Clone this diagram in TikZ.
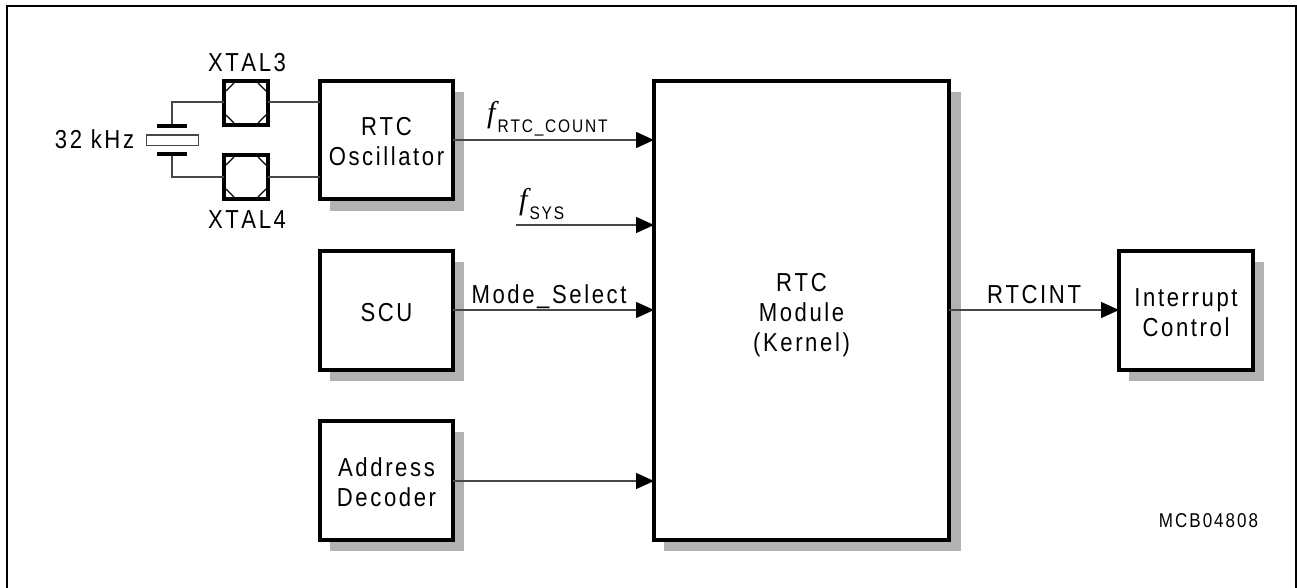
\documentclass[tikz,border=0pt]{standalone}
\usepackage{fontspec}
\setmainfont{Liberation Sans}
\newfontfamily\lblfont[LetterSpace=10,FakeStretch=0.85,Kerning=Off]{Liberation Sans}
\newfontfamily\italfont{Liberation Serif}
\usetikzlibrary{arrows.meta}
\definecolor{shadowgray}{gray}{0.7}
\definecolor{wire}{gray}{0.28}
\tikzset{
  x=1pt,y=-1pt,
  blockbox/.style={draw=black,line width=4pt,fill=white,inner sep=0pt,outer sep=0pt,align=center,anchor=north west,
    font=\fontsize{26}{30}\lblfont},
  padbox/.style={draw=black,line width=4pt,fill=white,inner sep=0pt,outer sep=0pt,minimum size=44pt},
  lbl/.style={inner sep=0pt,anchor=base,font=\fontsize{26}{30}\lblfont},
  tinylbl/.style={inner sep=0pt,anchor=base,font=\fontsize{20}{24}\lblfont},
  wirel/.style={draw=wire,line width=1.2pt},
  sig/.style={wirel,-{Triangle[length=18pt,width=16pt,fill=black,color=black]}},
}
\newcommand{\fsig}[1]{{\fontsize{30}{30}\italfont\itshape f}\kern2pt{\lower10pt\hbox{\fontsize{18.2}{18.2}\lblfont #1}}}
\newcommand{\tp}{\rule{0pt}{27pt}}
\newcommand{\bt}{\rule[-6pt]{0pt}{6pt}}
\begin{document}
\begin{tikzpicture}
\useasboundingbox (0,0) rectangle (1297,588);
\fill[white] (0,0) rectangle (1297,588);
% frame
\draw[black,line width=2pt] (7,600) -- (7,6) -- (1296,6) -- (1296,600);
% shadows
\fill[shadowgray] (330,92) rectangle (464,211);
\fill[shadowgray] (330,262) rectangle (464,381);
\fill[shadowgray] (330,432) rectangle (464,551);
\fill[shadowgray] (664,92) rectangle (961,551);
\fill[shadowgray] (1129,262) rectangle (1264,381);
% blocks
\node[blockbox,minimum width=133pt,minimum height=118pt] (osc) at (320,81) {\tp RTC\\Oscillator\bt};
\node[blockbox,minimum width=133pt,minimum height=119pt] (scu) at (320,251) {\tp SCU\bt};
\node[blockbox,minimum width=133pt,minimum height=119pt] (addr) at (320,421) {\tp Address\\Decoder\bt};
\node[blockbox,minimum width=295pt,minimum height=459pt] (rtc) at (654,81) {\tp RTC\\Module\\(Kernel)\bt};
\node[blockbox,minimum width=134pt,minimum height=119pt] (irq) at (1119,251) {\tp Interrupt\\Control\bt};
% pads
\node[padbox] (x3) at (246,103) {};
\node[padbox] (x4) at (246,177) {};
\foreach \p in {x3,x4}{
  \draw[black,line width=1.4pt] (\p.north west) ++(2,10) -- ++(8,-8);
  \draw[black,line width=1.4pt] (\p.north east) ++(-2,10) -- ++(-8,-8);
  \draw[black,line width=1.4pt] (\p.south west) ++(2,-10) -- ++(8,8);
  \draw[black,line width=1.4pt] (\p.south east) ++(-2,-10) -- ++(-8,8);
}
\node[lbl] (x3l) at (247,72) {XTAL3};
\node[lbl] (x4l) at (247,228) {XTAL4};
% crystal
\draw[black,line width=4pt] (157,126) -- (187,126);
\draw[black,line width=4pt] (157,154) -- (187,154);
\draw[wire,line width=1.2pt,fill=white] (146.5,135) rectangle (198.5,145.5);
\node[lbl] (khz) at (94.5,149) {32 kHz};
\coordinate (c3) at (172,102);
\coordinate (c4) at (172,177);
\draw[wirel] (172,124) -- (c3) -- (x3.west |- c3);
\draw[wirel] (172,156) -- (c4) -- (x4.west |- c4);
\draw[wirel] (x3.east |- c3) -- (osc.west |- c3);
\draw[wirel] (x4.east |- c4) -- (osc.west |- c4);
% signals
\coordinate (a1) at (455,140);
\coordinate (a2) at (516,225);
\coordinate (a3) at (455,310);
\coordinate (a4) at (455,481);
\draw[sig] (osc.east |- a1) -- (rtc.west |- a1);
\draw[sig] (a2) -- (rtc.west |- a2);
\draw[sig] (scu.east |- a3) -- (rtc.west |- a3);
\draw[sig] (addr.east |- a4) -- (rtc.west |- a4);
\draw[sig] (rtc.east |- a3) -- (irq.west |- a3);
% labels
\node[inner sep=0pt,anchor=base west] (f1) at (487,123) {\fsig{RTC\_COUNT}};
\node[inner sep=0pt,anchor=base west] (f2) at (519,209) {\fsig{SYS}};
\node[lbl] (ms) at (549,303) {Mode\_Select};
\node[lbl] (ri) at (1034,303) {RTCINT};
\node[tinylbl] (mcb) at (1208.5,527) {MCB04808};
\end{tikzpicture}
\end{document}
